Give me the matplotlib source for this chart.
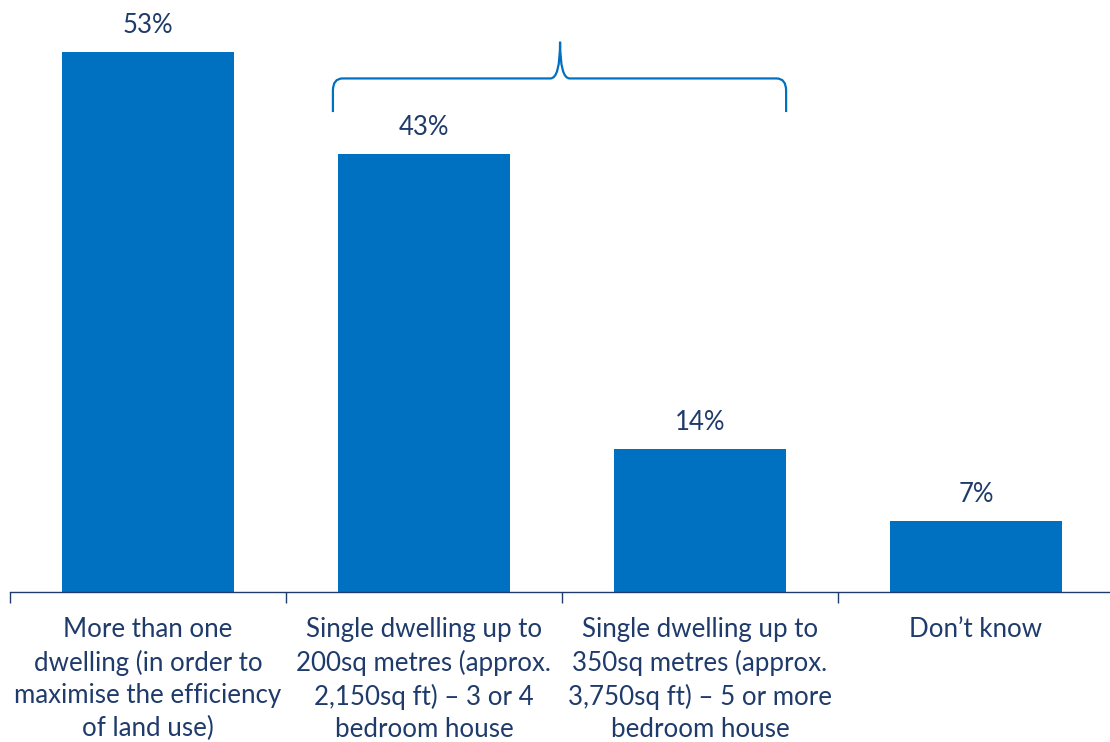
import matplotlib.pyplot as plt
from matplotlib.path import Path
from matplotlib.patches import PathPatch

categories = [
    "More than one\ndwelling (in order to\nmaximise the efficiency\nof land use)",
    "Single dwelling up to\n200sq metres (approx.\n2,150sq ft) \u2013 3 or 4\nbedroom house",
    "Single dwelling up to\n350sq metres (approx.\n3,750sq ft) \u2013 5 or more\nbedroom house",
    "Don\u2019t know",
]
values = [53, 43, 14, 7]

bar_color = "#0070C0"
text_color = "#1F3B6B"

plt.rcParams["font.family"] = ["Lato", "DejaVu Sans"]

fig = plt.figure(figsize=(11.1, 7.42), dpi=100)
ax = fig.add_axes([10 / 1110, 150 / 742, 1104 / 1110, 591 / 742])

x = range(len(values))
bars = ax.bar(x, values, width=0.625, color=bar_color)
ax.set_xlim(-0.5, 3.5)
ax.set_ylim(0, 58)

for b, v in zip(bars, values):
    ax.annotate(f"{v}%", (b.get_x() + b.get_width() / 2, v),
                xytext=(0, 10), textcoords="offset points",
                ha="center", va="bottom", fontsize=18.5, color=text_color)

# curly brace over the two single-dwelling bars
xl, xr, xm = 0.67, 2.312, 1.493
yb, yh, yt = 47.1, 50.4, 54.0
dx, dy = 0.035, 1.2
verts = [
    (xl, yb), (xl, yh - dy), (xl, yh), (xl + dx, yh),
    (xm - dx, yh), (xm, yh), (xm, yt),
    (xm, yh), (xm + dx, yh),
    (xr - dx, yh), (xr, yh), (xr, yh - dy), (xr, yb),
]
codes = [
    Path.MOVETO, Path.LINETO, Path.CURVE3, Path.CURVE3,
    Path.LINETO, Path.CURVE3, Path.CURVE3,
    Path.CURVE3, Path.CURVE3,
    Path.LINETO, Path.CURVE3, Path.CURVE3, Path.LINETO,
]
ax.add_patch(PathPatch(Path(verts, codes), fill=False, edgecolor=bar_color,
                       lw=1.6, clip_on=False))

for s in ["top", "right", "left"]:
    ax.spines[s].set_visible(False)
ax.spines["bottom"].set_color(text_color)
ax.spines["bottom"].set_linewidth(1.0)
ax.set_yticks([])

ax.set_xticks(list(x))
ax.set_xticklabels(categories, fontsize=18.6, color=text_color, linespacing=1.37)
ax.tick_params(axis="x", which="major", length=0, pad=18)
ax.set_xticks([-0.5, 0.5, 1.5, 2.5, 3.5], minor=True)
ax.tick_params(axis="x", which="minor", length=8, width=1.0, color=text_color,
               direction="out")

fig.savefig("out.png", dpi=100)
